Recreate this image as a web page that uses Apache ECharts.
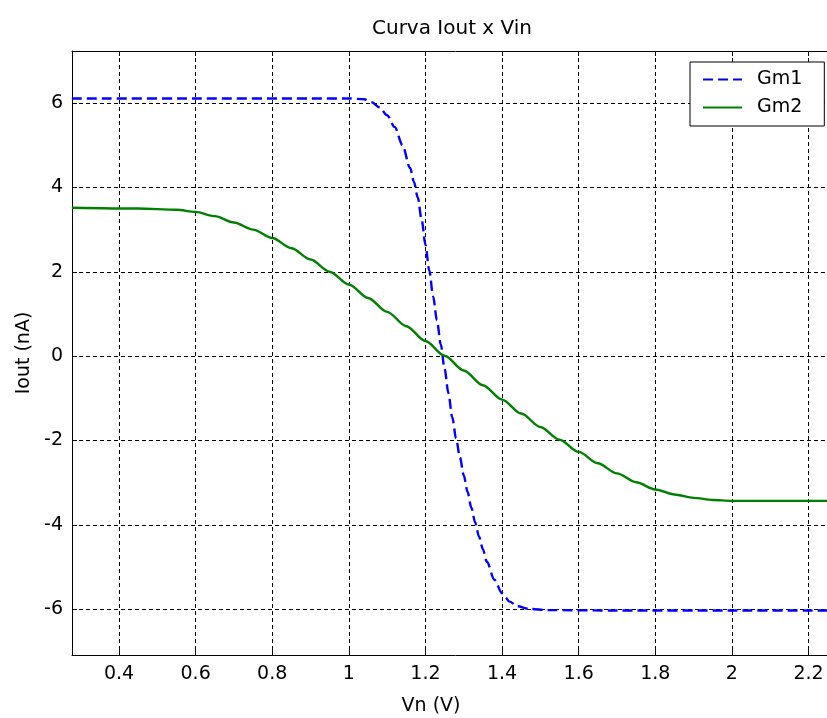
<!DOCTYPE html>
<html>
<head>
<meta charset="utf-8">
<script src="https://cdn.jsdelivr.net/npm/echarts@6/dist/echarts.min.js"></script>
<style>
  html, body { margin: 0; padding: 0; background: #fff; overflow: hidden; }
  #chart { width: 839px; height: 718px; }
</style>
</head>
<body>
<div id="chart"></div>
<script>
// Transfer curves Iout (nA) versus input voltage (V)
const vinGm1 = [0.277, 0.6, 0.9, 1.0, 1.04, 1.06, 1.08, 1.10, 1.12, 1.14, 1.16, 1.17, 1.18, 1.19, 1.20, 1.21, 1.22, 1.23, 1.24, 1.25, 1.26, 1.27, 1.28, 1.29, 1.30, 1.31, 1.32, 1.33, 1.34, 1.35, 1.36, 1.38, 1.40, 1.42, 1.44, 1.47, 1.52, 1.7, 2.0, 2.28];
const ioutGm1 = [6.11, 6.11, 6.11, 6.11, 6.09, 6.02, 5.90, 5.71, 5.43, 5.00, 4.46, 4.13, 3.76, 3.24, 2.64, 2.03, 1.42, 0.85, 0.28, -0.30, -0.88, -1.45, -1.95, -2.40, -2.82, -3.22, -3.60, -3.95, -4.28, -4.58, -4.87, -5.30, -5.62, -5.82, -5.93, -5.99, -6.02, -6.03, -6.03, -6.03];

const vinGm2 = [0.277, 0.45, 0.55, 0.60, 0.65, 0.70, 0.75, 0.80, 0.85, 0.90, 0.95, 1.00, 1.05, 1.10, 1.15, 1.20, 1.25, 1.30, 1.35, 1.40, 1.45, 1.50, 1.55, 1.60, 1.65, 1.70, 1.75, 1.80, 1.85, 1.90, 1.95, 2.00, 2.28];
const ioutGm2 = [3.52, 3.50, 3.47, 3.42, 3.32, 3.17, 3.00, 2.80, 2.56, 2.29, 2.00, 1.70, 1.38, 1.05, 0.71, 0.36, 0.01, -0.34, -0.69, -1.03, -1.36, -1.68, -1.98, -2.27, -2.54, -2.78, -2.99, -3.16, -3.28, -3.36, -3.41, -3.43, -3.43];

const xTicks = [0.4, 0.6, 0.8, 1, 1.2, 1.4, 1.6, 1.8, 2, 2.2];
const yTicks = [-6, -4, -2, 0, 2, 4, 6];

const xMin = 0.2773, xMax = 2.2796;
const yMin = -7.085, yMax = 7.235;

const FONT = '"DejaVu Sans", Verdana, sans-serif';

function pairs(xs, ys) { return xs.map((x, i) => [x, ys[i]]); }

const gridDash = { color: '#000', width: 1, type: [4, 3] };

function xAxisDef(pos, showLabels) {
  return {
    type: 'value', position: pos, min: xMin, max: xMax,
    axisLine: { show: true, onZero: false, lineStyle: { color: '#000', width: 1 } },
    axisTick: { show: true, inside: true, length: 5, customValues: xTicks, lineStyle: { color: '#000' } },
    axisLabel: { show: showLabels, customValues: xTicks, color: '#000', fontFamily: FONT, fontSize: 19, margin: 10,
                 formatter: v => String(+v.toFixed(2)) },
    splitLine: { show: showLabels, lineStyle: gridDash }
  };
}
function yAxisDef(pos, showLabels) {
  return {
    type: 'value', position: pos, min: yMin, max: yMax,
    axisLine: { show: true, onZero: false, lineStyle: { color: '#000', width: 1 } },
    axisTick: { show: true, inside: true, length: 5, customValues: yTicks, lineStyle: { color: '#000' } },
    axisLabel: { show: showLabels, customValues: yTicks, color: '#000', fontFamily: FONT, fontSize: 19, margin: 9 },
    splitLine: { show: showLabels, lineStyle: gridDash }
  };
}

const chart = echarts.init(document.getElementById('chart'), null, { renderer: 'canvas' });
chart.setOption({
  backgroundColor: '#fff',
  animation: false,
  title: [
    { text: 'Curva Iout x Vin', left: 447, top: 14, textAlign: 'center',
      textStyle: { fontFamily: FONT, fontSize: 20, fontWeight: 'normal', color: '#000' } },
    { text: 'Vn (V)', left: 426, top: 692, textAlign: 'center',
      textStyle: { fontFamily: FONT, fontSize: 19, fontWeight: 'normal', color: '#000' } }
  ],
  grid: { left: 72, right: 0, top: 51, bottom: 63, containLabel: false },
  xAxis: [xAxisDef('bottom', true), xAxisDef('top', false)],
  yAxis: [
    Object.assign(yAxisDef('left', true), {
      name: 'Iout (nA)', nameLocation: 'middle', nameGap: 35, nameRotate: 90,
      nameTextStyle: { fontFamily: FONT, fontSize: 19, color: '#000' }
    }),
    yAxisDef('right', false)
  ],
  legend: {
    orient: 'vertical', left: 690, top: 62,
    padding: [8, 22, 9, 12], itemGap: 9, itemWidth: 39, itemHeight: 14,
    backgroundColor: '#fff', borderColor: '#000', borderWidth: 1,
    itemStyle: { opacity: 0 },
    textStyle: { fontFamily: FONT, fontSize: 19, color: '#000', padding: [0, 0, 0, 10] },
    data: ['Gm1', 'Gm2']
  },
  series: [
    { name: 'Gm1', type: 'line', data: pairs(vinGm1, ioutGm1), showSymbol: false, symbol: 'none',
      smooth: 0.3, smoothMonotone: 'x', clip: true,
      lineStyle: { color: '#0000ff', width: 2.4, type: [10, 5] }, itemStyle: { color: '#0000ff' } },
    { name: 'Gm2', type: 'line', data: pairs(vinGm2, ioutGm2), showSymbol: false, symbol: 'none',
      smooth: 0.3, smoothMonotone: 'x', clip: true,
      lineStyle: { color: '#008000', width: 2.4 }, itemStyle: { color: '#008000' } }
  ]
});
</script>
</body>
</html>
